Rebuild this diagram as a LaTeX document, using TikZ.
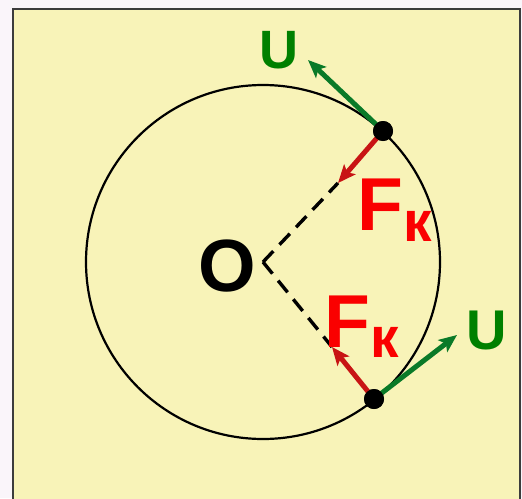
\documentclass[tikz,border=0pt]{standalone}
\usepackage{fontspec}
\setmainfont{Liberation Sans}
\usetikzlibrary{arrows.meta}
\definecolor{bgyellow}{RGB}{248,243,184}
\definecolor{framegray}{RGB}{60,60,60}
\definecolor{txtred}{RGB}{250,0,0}
\definecolor{arrred}{RGB}{200,20,20}
\definecolor{txtgreen}{RGB}{0,128,0}
\definecolor{arrgreen}{RGB}{10,122,40}
\tikzset{
  lbl/.style={inner sep=0pt, outer sep=0pt, anchor=base west, font=\bfseries},
  dot/.style={circle, fill=black, inner sep=0pt, minimum size=20pt},
  vec/.style={line width=5pt, -{Stealth[length=18pt, width=15pt, inset=4pt]}},
  radius line/.style={line width=3.4pt, dash pattern=on 15pt off 9pt},
}
\begin{document}
\begin{tikzpicture}[x=1pt, y=-1pt]
\useasboundingbox (0,0) rectangle (522,498);
\fill[white!96!violet] (0,0) rectangle (522,498);
\draw[framegray, line width=2.2pt, fill=bgyellow] (13,9) rectangle (520,505);
\coordinate (O) at (263,262);
\draw[line width=2.2pt] (O) circle[radius=177];
\node[dot] (P1) at (383,131) {};
\node[dot] (P2) at (374,399) {};
\coordinate (F1) at (338,183);
\coordinate (F2) at (332,347);
\coordinate (U1) at (308,60);
\coordinate (U2) at (457,335);
\draw[radius line] (O) -- (F1);
\draw[radius line] (O) -- (F2);
\draw[vec, arrred] (P1.center) -- (F1);
\draw[vec, arrred] (P2.center) -- (F2);
\draw[vec, arrgreen] (P1.center) -- (U1);
\draw[vec, arrgreen] (P2.center) -- (U2);
\node[dot] at (P1) {};
\node[dot] at (P2) {};
\node[lbl, txtgreen, font=\bfseries\fontsize{54pt}{54pt}\selectfont] (Ut) at (259,68) {U};
\node[lbl, txtgreen, font=\bfseries\fontsize{56pt}{56pt}\selectfont] (Ub) at (466,349) {U};
\node[lbl, font=\bfseries\fontsize{74pt}{74pt}\selectfont] (Olbl) at (198,291) {O};
\node[lbl, txtred, font=\bfseries\fontsize{75pt}{75pt}\selectfont] (Ft) at (357.5,230) {F\raisebox{-11pt}{\fontsize{57pt}{57pt}\selectfont к}};
\node[lbl, txtred, font=\bfseries\fontsize{75pt}{75pt}\selectfont] (Fb) at (324.5,347) {F\raisebox{-10pt}{\fontsize{57pt}{57pt}\selectfont к}};
\end{tikzpicture}
\end{document}
